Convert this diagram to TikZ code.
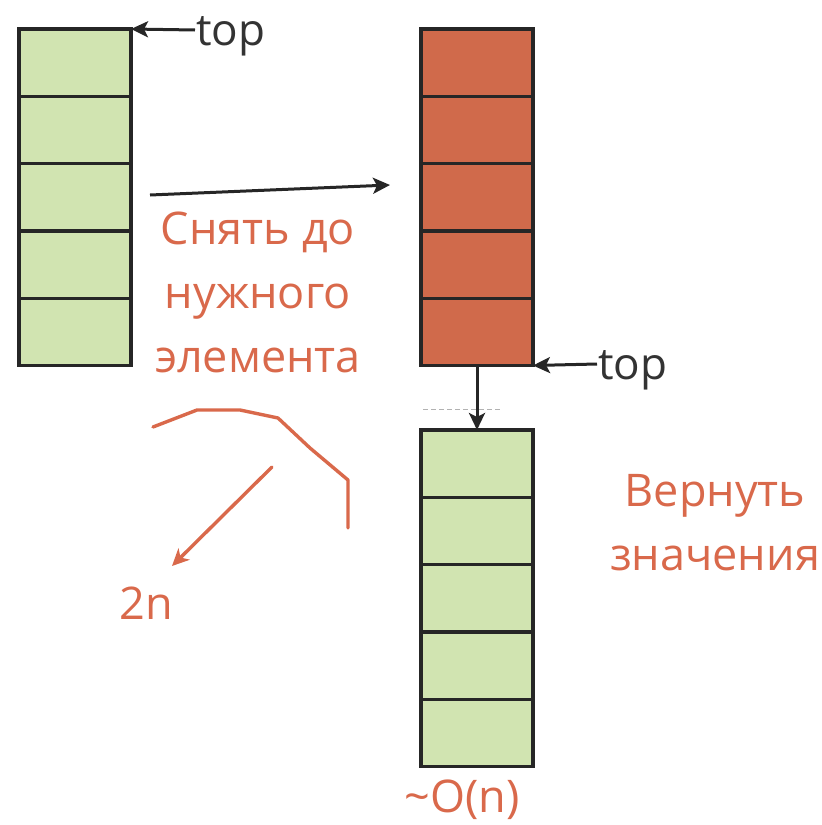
\documentclass[tikz,border=0pt]{standalone}
\usepackage{fontspec}
\setmainfont{Open Sans}
\usetikzlibrary{arrows.meta}
\definecolor{cellgreen}{HTML}{D1E4B1}
\definecolor{cellred}{HTML}{D06A4B}
\definecolor{note}{HTML}{D9694B}
\tikzset{
  cell/.style={draw=black!85, line width=3.4pt, minimum width=112pt, minimum height=67.3pt, inner sep=0pt, outer sep=0pt},
  gcell/.style={cell, fill=cellgreen},
  rcell/.style={cell, fill=cellred},
  ptr/.style={-{Stealth[length=17pt,width=16pt,inset=4pt]}, line width=3pt, black!85},
  notetext/.style={text=note, font=\fontsize{45}{64}\selectfont, align=center},
  labeltext/.style={text=black!80, font=\fontsize{44}{50}\selectfont, inner sep=0pt},
  stroke/.style={draw=note, line width=3.4pt, line cap=round, line join=round}
}
\begin{document}
\begin{tikzpicture}[x=1pt,y=-1pt]
\useasboundingbox (0,0) rectangle (822,825);
% three stacks of five cells
\foreach \i in {1,...,5}{
  \node[gcell] (L\i) at (75, {29+67.3*(\i-0.5)}) {};
  \node[rcell] (R\i) at (477, {29+67.3*(\i-0.5)}) {};
  \node[gcell] (G\i) at (477, {430+67.3*(\i-0.5)}) {};
}
% top pointers
\node[labeltext, anchor=west] (topA) at (196,36) {top};
\coordinate (ta) at (195,30);
\draw[ptr] (ta) -- (L1.north east);
\node[labeltext, anchor=west] (topB) at (598,370) {top};
\coordinate (tb) at (597,364);
\draw[ptr] (tb) -- (R5.south east);
% transfer arrows
\coordinate (m1) at (150,195);
\coordinate (m2) at (390,185);
\draw[ptr] (m1) -- (m2);
\draw[ptr] (R5.south) -- (G1.north);
% faint dashed guide
\coordinate (d1) at (423,409);
\coordinate (d2) at (501,409);
\draw[black!30, line width=1pt, dash pattern=on 5pt off 3pt] (d1) -- (d2);
% annotations
\node[notetext] (take) at (258,292) {Снять до\\нужного\\элемента};
\node[notetext] (ret) at (715,523) {Вернуть\\значения};
\node[notetext, inner sep=0pt] (twon) at (146,603) {2n};
\node[notetext, inner sep=0pt] (cost) at (462,800) {\textasciitilde O(n)};
% hand-drawn stroke and arrow
\draw[stroke] (153,427) -- (197,410) -- (240,410) -- (278,418) -- (310,448) -- (348,480) -- (348,528);
\coordinate (s1) at (272,467);
\coordinate (s2) at (172,566);
\draw[stroke, -{Stealth[length=17pt,width=16pt,inset=5pt]}] (s1) -- (s2);
\end{tikzpicture}
\end{document}
